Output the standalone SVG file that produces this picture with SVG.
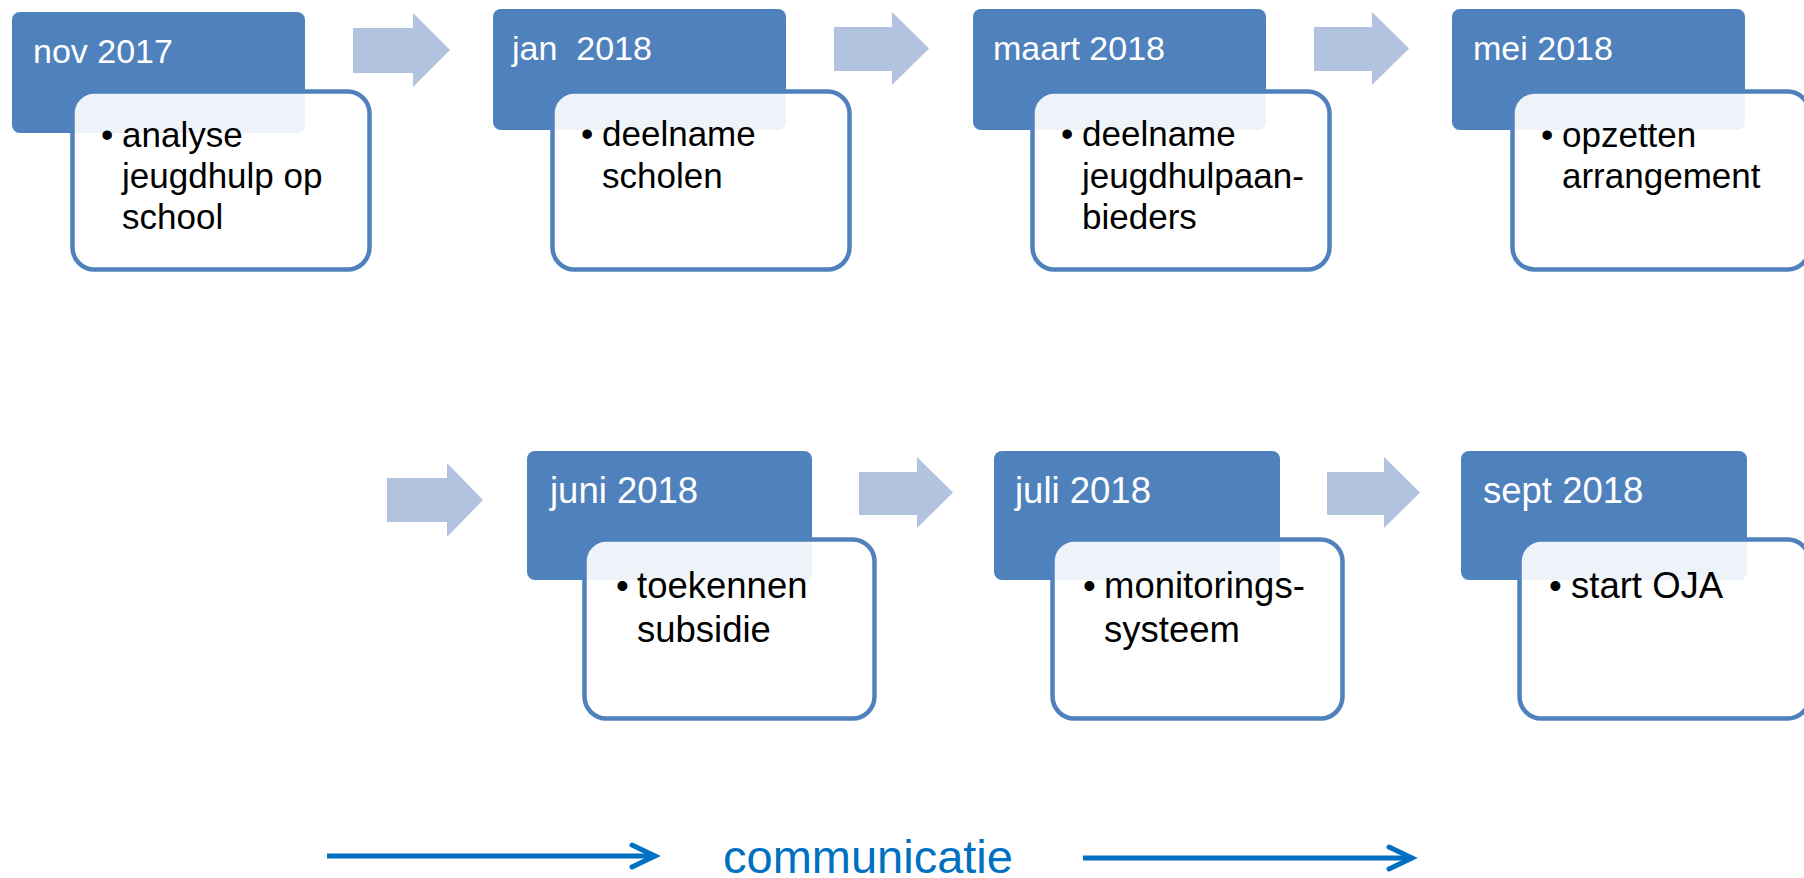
<svg xmlns="http://www.w3.org/2000/svg" width="1804" height="878" viewBox="0 0 1804 878">
<defs>
<style>
.hdr{fill:#4f81bd}
.box{fill:#ffffff;fill-opacity:0.9;stroke:#4f81bd;stroke-width:4.5}
.ht1{font-family:"Liberation Sans",Arial,sans-serif;font-size:34px;fill:#ffffff}
.ht2{font-family:"Liberation Sans",Arial,sans-serif;font-size:36.5px;fill:#ffffff}
.bt1{font-family:"Liberation Sans",Arial,sans-serif;font-size:35px;fill:#000000}
.bt2{font-family:"Liberation Sans",Arial,sans-serif;font-size:36.5px;fill:#000000}
.blk{fill:#b1c3de}
.com{fill:none;stroke:#0070c0;stroke-width:5}
.comt{font-family:"Liberation Sans",Arial,sans-serif;font-size:47px;fill:#0070c0}
</style>
<marker id="chev" markerUnits="userSpaceOnUse" markerWidth="34" markerHeight="30" viewBox="0 0 34 30" refX="28" refY="15" orient="auto">
<polyline points="5,4 28,15 5,26" fill="none" stroke="#0070c0" stroke-width="5" stroke-linecap="round" stroke-linejoin="miter"/>
</marker>
</defs>
<rect width="1804" height="878" fill="#ffffff"/>

<g id="connectors">
<path class="blk" d="M353,28 H413 V13 L450,50 L413,87 V73 H353 Z"/>
<path class="blk" d="M834,27 H892 V12 L929,48.5 L892,85 V71 H834 Z"/>
<path class="blk" d="M1314,27 H1372 V12 L1409,48.5 L1372,85 V71 H1314 Z"/>
<path class="blk" d="M387,478 H447 V463 L483,500 L447,537 V522 H387 Z"/>
<path class="blk" d="M859,472 H917 V457 L953,492.5 L917,528 V515 H859 Z"/>
<path class="blk" d="M1327,472 H1384 V457 L1420,492.5 L1384,528 V515 H1327 Z"/>
<path class="com" d="M327,856 H655" marker-end="url(#chev)"/>
<path class="com" d="M1083,858 H1412" marker-end="url(#chev)"/>
</g>

<g id="node-nov">
<rect class="hdr" x="12" y="12" width="293" height="121" rx="8"/>
<text class="ht1" x="33" y="63">nov 2017</text>
<rect class="box" x="72.5" y="91.5" width="297" height="178" rx="22"/>
<text class="bt1" x="101" y="147">•</text>
<text class="bt1" x="122" y="147">analyse</text>
<text class="bt1" x="122" y="188">jeugdhulp op</text>
<text class="bt1" x="122" y="229">school</text>
</g>

<g id="node-jan">
<rect class="hdr" x="493" y="9" width="293" height="121" rx="8"/>
<text class="ht1" x="512" y="60" xml:space="preserve">jan  2018</text>
<rect class="box" x="552.5" y="91.5" width="297" height="178" rx="22"/>
<text class="bt1" x="581" y="146">•</text>
<text class="bt1" x="602" y="146">deelname</text>
<text class="bt1" x="602" y="188">scholen</text>
</g>

<g id="node-maart">
<rect class="hdr" x="973" y="9" width="293" height="121" rx="8"/>
<text class="ht1" x="993" y="60">maart 2018</text>
<rect class="box" x="1032.5" y="91.5" width="297" height="178" rx="22"/>
<text class="bt1" x="1061" y="146">•</text>
<text class="bt1" x="1082" y="146">deelname</text>
<text class="bt1" x="1082" y="188">jeugdhulpaan-</text>
<text class="bt1" x="1082" y="229">bieders</text>
</g>

<g id="node-mei">
<rect class="hdr" x="1452" y="9" width="293" height="121" rx="8"/>
<text class="ht1" x="1473" y="60">mei 2018</text>
<rect class="box" x="1512.5" y="91.5" width="297" height="178" rx="22"/>
<text class="bt1" x="1541" y="147">•</text>
<text class="bt1" x="1562" y="147">opzetten</text>
<text class="bt1" x="1562" y="188">arrangement</text>
</g>

<g id="node-juni">
<rect class="hdr" x="527" y="451" width="285" height="129" rx="8"/>
<text class="ht2" x="550" y="503">juni 2018</text>
<rect class="box" x="584.5" y="539.5" width="290" height="179" rx="22"/>
<text class="bt2" x="616" y="598">•</text>
<text class="bt2" x="637" y="598">toekennen</text>
<text class="bt2" x="637" y="642">subsidie</text>
</g>

<g id="node-juli">
<rect class="hdr" x="994" y="451" width="286" height="129" rx="8"/>
<text class="ht2" x="1015" y="503">juli 2018</text>
<rect class="box" x="1052.5" y="539.5" width="290" height="179" rx="22"/>
<text class="bt2" x="1083" y="598">•</text>
<text class="bt2" x="1104" y="598">monitorings-</text>
<text class="bt2" x="1104" y="642">systeem</text>
</g>

<g id="node-sept">
<rect class="hdr" x="1461" y="451" width="286" height="129" rx="8"/>
<text class="ht2" x="1483" y="503">sept 2018</text>
<rect class="box" x="1519.5" y="539.5" width="290" height="179" rx="22"/>
<text class="bt2" x="1549" y="598">•</text>
<text class="bt2" x="1571" y="598">start OJA</text>
</g>

<g id="label-communicatie">
<text class="comt" x="723" y="873">communicatie</text>
</g>
</svg>
